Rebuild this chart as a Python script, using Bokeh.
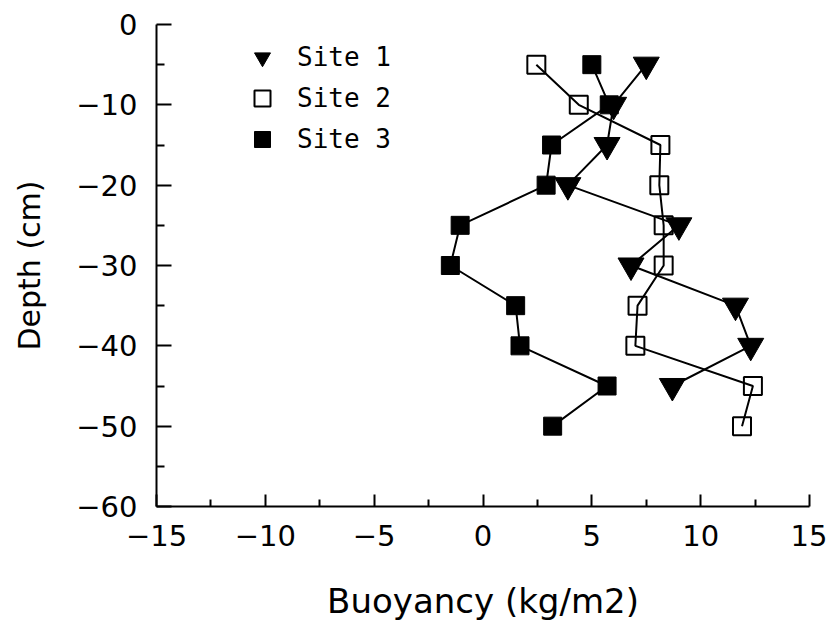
from bokeh.plotting import figure
from bokeh.models import Range1d, Legend, LegendItem, FixedTicker, CustomJSTickFormatter
from bokeh.embed import file_html
from bokeh.resources import INLINE

depth_1 = [-5, -10, -15, -20, -25, -30, -35, -40, -45]
buoy_1 = [7.5, 6.0, 5.7, 3.9, 9.0, 6.8, 11.6, 12.3, 8.7]

depth_2 = [-5, -10, -15, -20, -25, -30, -35, -40, -45, -50]
buoy_2 = [2.45, 4.4, 8.15, 8.1, 8.3, 8.3, 7.1, 7.0, 12.4, 11.9]

depth_3 = [-5, -10, -15, -20, -25, -30, -35, -40, -45, -50]
buoy_3 = [5.0, 5.8, 3.15, 2.9, -1.05, -1.5, 1.5, 1.7, 5.7, 3.2]

x_ticks = [-15, -10, -5, 0, 5, 10, 15]
y_ticks = [-60, -50, -40, -30, -20, -10, 0]
labels = ["Site 1", "Site 2", "Site 3"]

p = figure(width=827, height=630, output_backend="svg", toolbar_location=None,
           x_range=Range1d(-15, 15), y_range=Range1d(-60, 0),
           min_border_left=156, min_border_right=18, min_border_top=24, min_border_bottom=124)
p.outline_line_color = None
p.grid.visible = False
p.background_fill_color = "white"

tick_font = "DejaVu Sans"
fmt = CustomJSTickFormatter(code="return tick < 0 ? '\u2212' + Math.abs(tick) : tick.toString();")

for ax in (p.xaxis[0], p.yaxis[0]):
    ax.axis_line_width = 2
    ax.major_tick_line_width = 2
    ax.minor_tick_line_width = 2
    ax.major_tick_out = 0
    ax.minor_tick_out = 0
    ax.major_label_text_font = tick_font
    ax.major_label_text_font_size = "29px"
    ax.major_label_text_color = "black"
    ax.axis_label_text_font = tick_font
    ax.axis_label_text_font_style = "normal"
    ax.axis_label_text_color = "black"
    ax.formatter = fmt

p.xaxis.ticker = FixedTicker(ticks=x_ticks, minor_ticks=[-12.5, -7.5, -2.5, 2.5, 7.5, 12.5])
p.yaxis.ticker = FixedTicker(ticks=y_ticks, minor_ticks=[-55, -45, -35, -25, -15, -5])
p.xaxis.major_tick_in = 12
p.xaxis.minor_tick_in = 7
p.yaxis.major_tick_in = 15
p.yaxis.minor_tick_in = 8
p.xaxis.major_label_standoff = 18
p.yaxis.major_label_standoff = 19
p.xaxis.axis_label = "Buoyancy (kg/m2)"
p.yaxis.axis_label = "Depth (cm)"
p.xaxis.axis_label_text_font_size = "34px"
p.yaxis.axis_label_text_font_size = "30px"
p.xaxis.axis_label_standoff = 32
p.yaxis.axis_label_standoff = 26

p.line(buoy_1, depth_1, line_color="black", line_width=2)
p.line(buoy_2, depth_2, line_color="black", line_width=2)
p.line(buoy_3, depth_3, line_color="black", line_width=2)

r1 = p.scatter(buoy_1, depth_1, marker="inverted_triangle", size=26,
               fill_color="black", line_color="black")
r2 = p.scatter(buoy_2, depth_2, marker="square", size=18,
               fill_alpha=0, line_color="black", line_width=2)
r3 = p.scatter(buoy_3, depth_3, marker="square", size=18,
               fill_color="black", line_color="black")

legend = Legend(items=[LegendItem(label=labels[0], renderers=[r1]),
                       LegendItem(label=labels[1], renderers=[r2]),
                       LegendItem(label=labels[2], renderers=[r3])],
                location=(86, 347), padding=0, spacing=1,
                glyph_width=40, glyph_height=40, label_height=40,
                label_standoff=15,
                label_text_font="DejaVu Sans Mono", label_text_font_size="26px",
                label_text_color="black",
                border_line_alpha=0, background_fill_alpha=0)
p.add_layout(legend)

open("out.html", "w").write(file_html(p, INLINE))
